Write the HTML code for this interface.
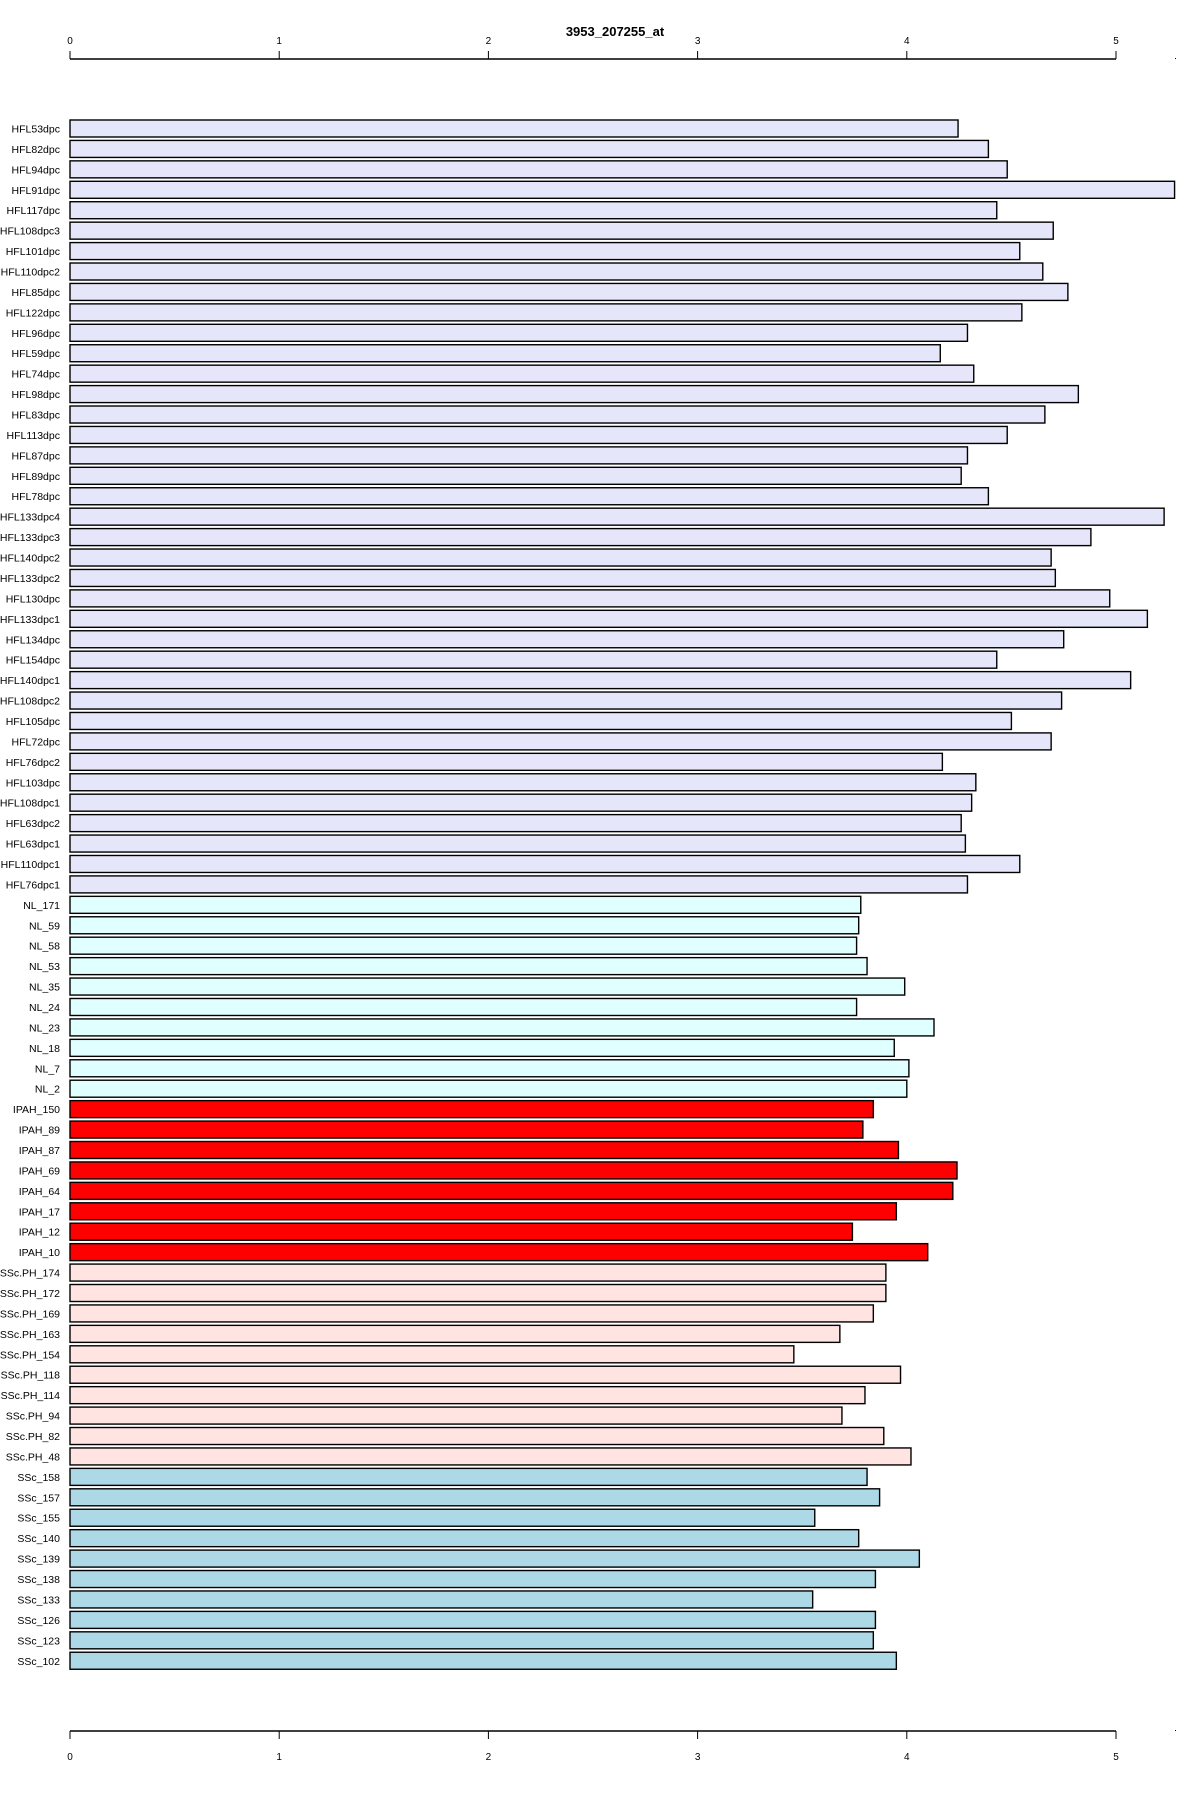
<!DOCTYPE html>
<html><head><meta charset="utf-8"><style>
html,body{margin:0;padding:0;background:#fff;}
svg text{font-family:"Liberation Sans Narrow","Liberation Sans",sans-serif;}
</style></head><body>
<svg id="chart" width="1200" height="1800" xmlns="http://www.w3.org/2000/svg">
<text x="615" y="36" font-size="13" font-weight="bold" text-anchor="middle">3953_207255_at</text>
<g id="bars"></g>
<g id="axes"></g>
</svg>
<script>
const categories = ["HFL53dpc","HFL82dpc","HFL94dpc","HFL91dpc","HFL117dpc","HFL108dpc3","HFL101dpc","HFL110dpc2","HFL85dpc","HFL122dpc","HFL96dpc","HFL59dpc","HFL74dpc","HFL98dpc","HFL83dpc","HFL113dpc","HFL87dpc","HFL89dpc","HFL78dpc","HFL133dpc4","HFL133dpc3","HFL140dpc2","HFL133dpc2","HFL130dpc","HFL133dpc1","HFL134dpc","HFL154dpc","HFL140dpc1","HFL108dpc2","HFL105dpc","HFL72dpc","HFL76dpc2","HFL103dpc","HFL108dpc1","HFL63dpc2","HFL63dpc1","HFL110dpc1","HFL76dpc1","NL_171","NL_59","NL_58","NL_53","NL_35","NL_24","NL_23","NL_18","NL_7","NL_2","IPAH_150","IPAH_89","IPAH_87","IPAH_69","IPAH_64","IPAH_17","IPAH_12","IPAH_10","SSc.PH_174","SSc.PH_172","SSc.PH_169","SSc.PH_163","SSc.PH_154","SSc.PH_118","SSc.PH_114","SSc.PH_94","SSc.PH_82","SSc.PH_48","SSc_158","SSc_157","SSc_155","SSc_140","SSc_139","SSc_138","SSc_133","SSc_126","SSc_123","SSc_102"];
const values = [4.245,4.39,4.48,5.28,4.43,4.70,4.54,4.65,4.77,4.55,4.29,4.16,4.32,4.82,4.66,4.48,4.29,4.26,4.39,5.23,4.88,4.69,4.71,4.97,5.15,4.75,4.43,5.07,4.74,4.50,4.69,4.17,4.33,4.31,4.26,4.28,4.54,4.29,3.78,3.77,3.76,3.81,3.99,3.76,4.13,3.94,4.01,4.00,3.84,3.79,3.96,4.24,4.22,3.95,3.74,4.10,3.90,3.90,3.84,3.68,3.46,3.97,3.80,3.69,3.89,4.02,3.81,3.87,3.56,3.77,4.06,3.85,3.55,3.85,3.84,3.95];
const groups = ["HFL","NL","IPAH","SSc.PH","SSc"];
const groupCounts = [38,10,8,10,10];
const groupColors = ["#e6e6fa","#e0ffff","#ff0000","#ffe4e1","#add8e6"];
const ticks = [0,1,2,3,4,5];

const NS="http://www.w3.org/2000/svg";
const x0=70, unit=209.2, y0=128.5, pitch=20.43, bh=17;
const xs=v=>x0+v*unit;
const ys=i=>y0+i*pitch;
const bars=document.getElementById('bars');
let colorIdx=[];
groupCounts.forEach((c,g)=>{for(let k=0;k<c;k++)colorIdx.push(g);});
categories.forEach((c,i)=>{
  const r=document.createElementNS(NS,'rect');
  r.setAttribute('x',xs(0));r.setAttribute('y',ys(i)-bh/2);
  r.setAttribute('width',xs(values[i])-xs(0));r.setAttribute('height',bh);
  r.setAttribute('fill',groupColors[colorIdx[i]]);r.setAttribute('stroke','#000');r.setAttribute('stroke-width','1.4');
  
  
  bars.appendChild(r);
  const t=document.createElementNS(NS,'text');
  t.setAttribute('x',60);t.setAttribute('y',ys(i)+4);t.setAttribute('font-size','10.5');t.setAttribute('text-anchor','end');
  t.textContent=c;
  
  
  bars.appendChild(t);
});
const axes=document.getElementById('axes');
function axis(yLine,dir,labY,name){
  const g=document.createElementNS(NS,'g');
  
  
  const l=document.createElementNS(NS,'line');
  l.setAttribute('x1',xs(0));l.setAttribute('x2',xs(5));l.setAttribute('y1',yLine);l.setAttribute('y2',yLine);
  l.setAttribute('stroke','#000');l.setAttribute('stroke-width','1.5');g.appendChild(l);
  ticks.forEach(v=>{
    const tk=document.createElementNS(NS,'line');
    tk.setAttribute('x1',xs(v));tk.setAttribute('x2',xs(v));tk.setAttribute('y1',yLine);tk.setAttribute('y2',yLine+dir*8);
    tk.setAttribute('stroke','#000');g.appendChild(tk);
    const t=document.createElementNS(NS,'text');
    t.setAttribute('x',xs(v));t.setAttribute('y',labY);t.setAttribute('font-size','10');t.setAttribute('text-anchor','middle');
    t.textContent=v;
    
    
    g.appendChild(t);
  });
  const d=document.createElementNS(NS,'rect');
  d.setAttribute('x',1175);d.setAttribute('y',yLine-1);d.setAttribute('width',1);d.setAttribute('height',1);d.setAttribute('fill','#000');g.appendChild(d);
  axes.appendChild(g);
}
axis(59,-1,44,'top-x-axis');
axis(1731,1,1760,'bottom-x-axis');
</script>
</body></html>
